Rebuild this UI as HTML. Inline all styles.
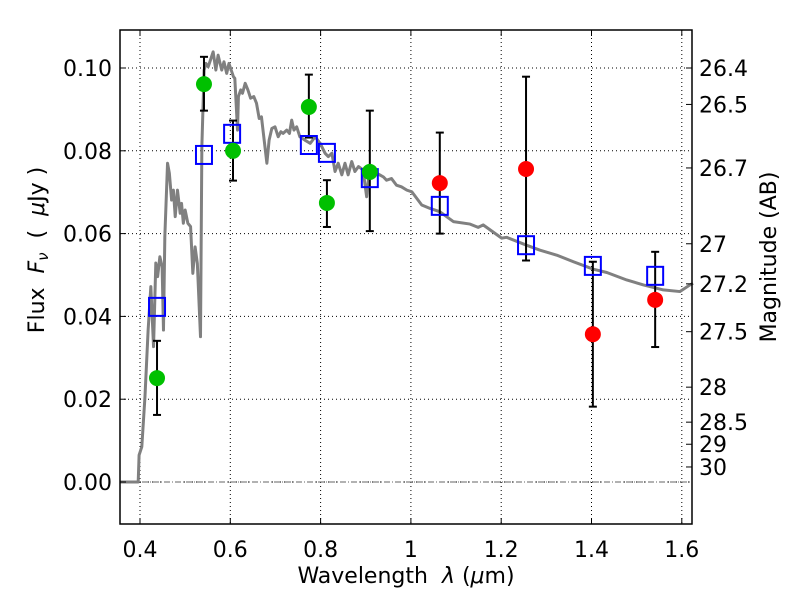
<!DOCTYPE html>
<html><head><meta charset="utf-8"><style>
html,body{margin:0;padding:0;background:#fff}
svg text{font-family:"DejaVu Sans","Liberation Sans",sans-serif;font-size:22px;fill:#000}
</style></head><body>
<svg id="chart" width="800" height="600" xmlns="http://www.w3.org/2000/svg"></svg>
<script>
const modelLam=[0.355,0.396,0.398,0.404,0.411,0.418,0.424,0.430,0.435,0.439,0.444,0.449,0.452,0.455,0.461,0.465,0.470,0.474,0.478,0.483,0.489,0.492,0.496,0.500,0.506,0.512,0.517,0.522,0.527,0.534,0.537,0.542,0.546,0.551,0.556,0.562,0.568,0.573,0.581,0.586,0.592,0.597,0.607,0.610,0.616,0.618,0.623,0.627,0.633,0.639,0.645,0.652,0.658,0.664,0.669,0.675,0.681,0.686,0.692,0.699,0.706,0.712,0.717,0.725,0.731,0.736,0.741,0.747,0.754,0.765,0.777,0.788,0.799,0.810,0.817,0.825,0.832,0.839,0.847,0.854,0.861,0.869,0.876,0.884,0.894,0.902,0.909,0.924,0.939,0.946,0.957,0.968,0.979,0.991,1.002,1.024,1.042,1.064,1.094,1.131,1.149,1.160,1.201,1.212,1.256,1.286,1.323,1.360,1.404,1.434,1.478,1.515,1.559,1.596,1.618,1.625];
const modelFlux=[0,0,0.0065,0.0085,0.0206,0.0367,0.0472,0.0327,0.0529,0.0496,0.0544,0.052,0.0367,0.0593,0.077,0.0746,0.0681,0.0705,0.0641,0.0705,0.0649,0.0673,0.0625,0.0657,0.0625,0.0617,0.0504,0.0568,0.0528,0.0351,0.081,0.0995,0.1011,0.1003,0.1019,0.1039,0.0995,0.1031,0.0995,0.1015,0.0987,0.1011,0.0979,0.0975,0.085,0.0931,0.0947,0.0939,0.0963,0.0947,0.0927,0.0931,0.0915,0.0878,0.0882,0.0826,0.077,0.0826,0.0854,0.0858,0.0834,0.0846,0.0842,0.085,0.0842,0.0874,0.085,0.0858,0.0834,0.0826,0.0818,0.0834,0.0818,0.0794,0.0786,0.0794,0.075,0.077,0.0742,0.077,0.0742,0.0774,0.075,0.0762,0.0754,0.0689,0.0762,0.0746,0.0737,0.0729,0.0733,0.0717,0.0713,0.0705,0.0701,0.0669,0.0661,0.0653,0.0629,0.0623,0.0615,0.0621,0.0589,0.0591,0.0572,0.056,0.0548,0.0532,0.0514,0.0506,0.0488,0.0476,0.0464,0.046,0.0476,0.048];
const greenLam=[0.4377,0.5417,0.606,0.774,0.814,0.909];
const greenFlux=[0.0251,0.0961,0.080,0.0906,0.0674,0.0749];
const greenHi=[0.0341,0.1027,0.0873,0.0984,0.0729,0.0897];
const greenLo=[0.0162,0.0897,0.0728,0.0832,0.0616,0.0606];
const redLam=[1.064,1.255,1.403,1.541];
const redFlux=[0.0722,0.0756,0.0357,0.0440];
const redHi=[0.0844,0.0979,0.0532,0.0556];
const redLo=[0.0600,0.0535,0.0182,0.0326];
const boxLam=[0.4377,0.5417,0.604,0.774,0.814,0.909,1.064,1.255,1.403,1.541];
const boxFlux=[0.0423,0.0790,0.0841,0.0814,0.0795,0.0734,0.0667,0.0572,0.0522,0.0498];
const xTicks=[0.4,0.6,0.8,1.0,1.2,1.4,1.6];
const xTickLabels=["0.4","0.6","0.8","1","1.2","1.4","1.6"];
const yTicks=[0,0.02,0.04,0.06,0.08,0.10];
const yTickLabels=["0.00","0.02","0.04","0.06","0.08","0.10"];
const magTicks=[26.4,26.5,26.7,27,27.2,27.5,28,28.5,29,30];
const magTickLabels=["26.4","26.5","26.7","27","27.2","27.5","28","28.5","29","30"];

const L=120,R=692,T=30,B=524;
const X=v=>140+(v-0.4)*451.5;
const Y=v=>482-v*4140;
const NS="http://www.w3.org/2000/svg";
const svg=document.getElementById('chart');
function mk(tag,attrs,parent){const e=document.createElementNS(NS,tag);for(const k in attrs)e.setAttribute(k,attrs[k]);(parent||svg).appendChild(e);return e;}

const grid=mk('g',{});


xTicks.forEach(t=>{mk('line',{x1:X(t),x2:X(t),y1:T,y2:B,stroke:'#000','stroke-width':1,'stroke-dasharray':'1,3'},grid);});
yTicks.forEach(t=>{mk('line',{x1:L,x2:R,y1:Y(t),y2:Y(t),stroke:'#000','stroke-width':1,'stroke-dasharray':'1,3'},grid);});
const zl=mk('line',{x1:L,x2:R,y1:Y(0),y2:Y(0),stroke:'#666','stroke-width':1,'stroke-dasharray':'6,2,1,2'});



const mp=mk('polyline',{points:modelLam.map((l,i)=>X(l)+','+Y(modelFlux[i])).join(' '),fill:'none',stroke:'#808080','stroke-width':3,'stroke-linejoin':'round'});



function errs(lam,hi,lo,name){
  lam.forEach((l,i)=>{
    const g=mk('g',{stroke:'#000','stroke-width':2});
    
    
    mk('line',{x1:X(l),x2:X(l),y1:Y(hi[i]),y2:Y(lo[i])},g);
    mk('line',{x1:X(l)-4,x2:X(l)+4,y1:Y(hi[i]),y2:Y(hi[i])},g);
    mk('line',{x1:X(l)-4,x2:X(l)+4,y1:Y(lo[i]),y2:Y(lo[i])},g);
  });
}
errs(greenLam,greenHi,greenLo,'green');
errs(redLam,redHi,redLo,'red');
boxLam.forEach((l,i)=>{
  const r=mk('rect',{x:X(l)-8,y:Y(boxFlux[i])-9,width:16,height:18,fill:'none',stroke:'#0000ff','stroke-width':2});
  
  
});
greenLam.forEach((l,i)=>{
  const c=mk('circle',{cx:X(l),cy:Y(greenFlux[i]),r:8,fill:'#00c000'});
  
  
});
redLam.forEach((l,i)=>{
  const c=mk('circle',{cx:X(l),cy:Y(redFlux[i]),r:8,fill:'#ff0000'});
  
  
});

const fr=mk('rect',{x:L,y:T,width:R-L,height:B-T,fill:'none',stroke:'#000','stroke-width':1.5});



xTicks.forEach((t,i)=>{
  mk('line',{x1:X(t),x2:X(t),y1:B,y2:B-6,stroke:'#000'});
  mk('line',{x1:X(t),x2:X(t),y1:T,y2:T+6,stroke:'#000'});
  const tx=mk('text',{x:X(t),y:557,'text-anchor':'middle'});
  tx.textContent=xTickLabels[i];
  
  
});
yTicks.forEach((t,i)=>{
  mk('line',{x1:L,x2:L+6,y1:Y(t),y2:Y(t),stroke:'#000'});
  const tx=mk('text',{x:112,y:Y(t)+8,'text-anchor':'end'});
  tx.textContent=yTickLabels[i];
  
  
});
magTicks.forEach((m,i)=>{
  const f=Math.pow(10,(23.9-m)/2.5);
  mk('line',{x1:R,x2:R-6,y1:Y(f),y2:Y(f),stroke:'#000'});
  const tx=mk('text',{x:699,y:Y(f)+8,'text-anchor':'start'});
  tx.textContent=magTickLabels[i];
  
  
});
</script>
<svg width="800" height="600" style="position:absolute;left:0;top:0" xmlns="http://www.w3.org/2000/svg">
<text x="406" y="583" text-anchor="middle" xml:space="preserve" style="font-family:'DejaVu Sans',sans-serif;font-size:22px">Wavelength  <tspan font-style="italic">λ</tspan> (<tspan font-style="italic">μ</tspan>m)</text>
<text transform="translate(44,250) rotate(-90)" text-anchor="middle" xml:space="preserve" style="font-family:'DejaVu Sans',sans-serif;font-size:22px">Flux  <tspan font-style="italic">F</tspan><tspan font-style="italic" font-size="15" dy="4">ν</tspan><tspan dy="-4">  (  </tspan><tspan font-style="italic">μ</tspan>Jy )</text>
<text transform="translate(776,257) rotate(-90)" text-anchor="middle" style="font-family:'DejaVu Sans',sans-serif;font-size:22px">Magnitude (AB)</text>
</svg>
</body></html>
